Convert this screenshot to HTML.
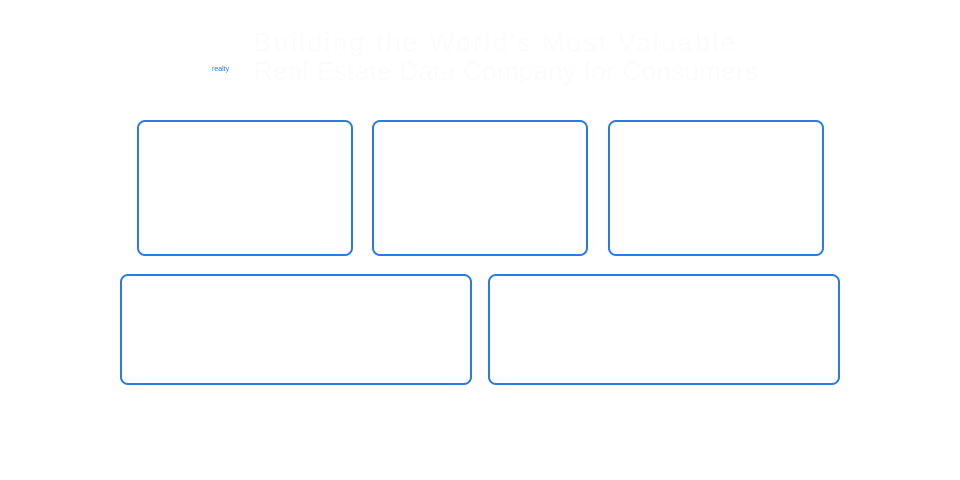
<!DOCTYPE html>
<html><head><style>
body{margin:0;width:960px;height:480px;background:#fff;position:relative;overflow:hidden;font-family:"Liberation Sans",sans-serif}
.b{position:absolute;border:2px solid #2a7be4;border-radius:8px;box-sizing:border-box}
.t{position:absolute;color:#fcfcfc;white-space:nowrap}
</style></head><body>
<div class="t" style="left:254px;top:27px;font-size:26px;letter-spacing:2.5px">Building the World's Most Valuable</div>
<div class="t" style="left:254px;top:56px;font-size:26px;letter-spacing:0.3px">Real Estate Data Company for Consumers</div>
<div style="position:absolute;left:212px;top:66px;font-size:7px;color:#2a7be4">realty</div>
<div class="b" style="left:137px;top:120px;width:216px;height:136px"></div>
<div class="b" style="left:372px;top:120px;width:216px;height:136px"></div>
<div class="b" style="left:608px;top:120px;width:216px;height:136px"></div>
<div class="b" style="left:120px;top:274px;width:352px;height:111px"></div>
<div class="b" style="left:488px;top:274px;width:352px;height:111px"></div>
</body></html>
